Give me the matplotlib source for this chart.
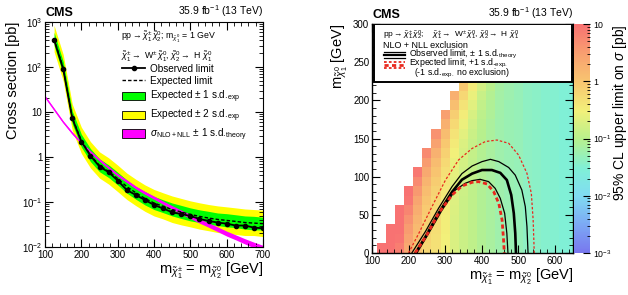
import matplotlib
matplotlib.use("Agg")
import matplotlib.pyplot as plt
import numpy as np
from matplotlib.colors import LinearSegmentedColormap, LogNorm
from matplotlib.lines import Line2D
from matplotlib.patches import Patch, Rectangle
from matplotlib.ticker import FixedLocator, MultipleLocator, LogLocator, NullFormatter

plt.rcParams["font.family"] = ["Liberation Sans", "DejaVu Sans"]
plt.rcParams["mathtext.fontset"] = "custom"
plt.rcParams["mathtext.rm"] = "Liberation Sans"
plt.rcParams["mathtext.it"] = "Liberation Sans:italic"
plt.rcParams["mathtext.bf"] = "Liberation Sans:bold"

# ---------------- left panel data ----------------
mass = [125, 150, 175, 200, 225, 250, 275, 300, 325, 350, 375, 400,
        425, 450, 475, 500, 525, 550, 575, 600, 625, 650, 675, 700]
obs_limit = [400, 90, 7.2, 2.2, 1.07, 0.61, 0.46, 0.30, 0.185, 0.143, 0.111, 0.086,
             0.072, 0.059, 0.054, 0.049, 0.042, 0.038, 0.035, 0.033, 0.030, 0.030, 0.027, 0.026]
exp_limit = [420, 95, 7.5, 2.3, 1.1, 0.65, 0.48, 0.33, 0.22, 0.16, 0.12, 0.095,
             0.080, 0.068, 0.060, 0.053, 0.048, 0.044, 0.041, 0.039, 0.037, 0.035, 0.034, 0.033]
exp_1s_up = [590, 133, 10.5, 3.2, 1.54, 0.91, 0.67, 0.46, 0.31, 0.22, 0.17, 0.133,
             0.112, 0.095, 0.084, 0.074, 0.067, 0.062, 0.057, 0.055, 0.052, 0.049, 0.048, 0.046]
exp_1s_dn = [302, 68, 5.4, 1.66, 0.79, 0.47, 0.35, 0.24, 0.158, 0.115, 0.086, 0.068,
             0.058, 0.049, 0.043, 0.038, 0.035, 0.032, 0.030, 0.028, 0.027, 0.025, 0.024, 0.024]
exp_2s_up = [840, 190, 15, 4.6, 2.2, 1.3, 0.96, 0.66, 0.44, 0.32, 0.24, 0.19,
             0.16, 0.136, 0.12, 0.106, 0.096, 0.088, 0.082, 0.078, 0.074, 0.070, 0.068, 0.066]
exp_2s_dn = [218, 49, 3.9, 1.2, 0.57, 0.34, 0.25, 0.17, 0.114, 0.083, 0.062, 0.049,
             0.042, 0.035, 0.031, 0.028, 0.025, 0.023, 0.021, 0.020, 0.019, 0.018, 0.018, 0.017]

th_mass = [100, 125, 150, 175, 200, 225, 250, 275, 300, 325, 350, 375, 400,
           425, 450, 475, 500, 525, 550, 575, 600, 625, 650, 675, 700]
th_xsec = [22, 11.5, 6.0, 3.4, 2.05, 1.3, 0.86, 0.58, 0.40, 0.29, 0.21, 0.16, 0.125,
           0.097, 0.076, 0.060, 0.048, 0.038, 0.031, 0.025, 0.020, 0.0165, 0.0135, 0.0112, 0.0095]
th_up = [23.0, 12.1, 6.3, 3.6, 2.16, 1.37, 0.91, 0.615, 0.425, 0.31, 0.225, 0.172, 0.135,
         0.105, 0.083, 0.066, 0.053, 0.042, 0.0345, 0.028, 0.0225, 0.0186, 0.0153, 0.0128, 0.0109]
th_dn = [21.0, 10.9, 5.7, 3.2, 1.94, 1.23, 0.81, 0.545, 0.375, 0.27, 0.195, 0.148, 0.115,
         0.089, 0.069, 0.054, 0.043, 0.034, 0.0275, 0.022, 0.0175, 0.0144, 0.0117, 0.0096, 0.0081]

# ---------------- right panel data ----------------
# cell centres: chargino mass 125..650 (25 GeV), LSP mass 6.25..218.75 (12.5 GeV)
grid_x = [125, 150, 175, 200, 225, 250, 275, 300, 325, 350, 375,
          400, 425, 450, 475, 500, 525, 550, 575, 600, 625, 650]
grid_y = [6.25, 18.75, 31.25, 43.75, 56.25, 68.75, 81.25, 93.75, 106.25,
          118.75, 131.25, 143.75, 156.25, 168.75, 181.25, 193.75, 206.25, 218.75]
_ = np.nan
# log10 of the 95% CL upper limit [pb], one row per LSP mass
log_limit = [
    [2.6, 1.95, 0.85, 0.35, 0.03, -0.22, -0.34, -0.52, -0.73, -0.85, -0.95, -1.06, -1.14, -1.23, -1.27, -1.31, -1.38, -1.42, -1.46, -1.48, -1.52, -1.54],
    [_, 2.13, 0.96, 0.43, 0.07, -0.20, -0.33, -0.52, -0.73, -0.85, -0.95, -1.06, -1.14, -1.23, -1.27, -1.31, -1.38, -1.42, -1.46, -1.48, -1.52, -1.54],
    [_, 2.33, 1.10, 0.52, 0.13, -0.17, -0.31, -0.50, -0.73, -0.85, -0.95, -1.06, -1.14, -1.23, -1.27, -1.31, -1.38, -1.42, -1.46, -1.48, -1.52, -1.54],
    [_, _, 1.28, 0.63, 0.21, -0.13, -0.29, -0.49, -0.73, -0.85, -0.95, -1.06, -1.14, -1.23, -1.27, -1.31, -1.38, -1.42, -1.46, -1.48, -1.52, -1.54],
    [_, _, 1.48, 0.77, 0.30, -0.07, -0.26, -0.47, -0.71, -0.85, -0.95, -1.06, -1.14, -1.23, -1.27, -1.31, -1.38, -1.42, -1.46, -1.48, -1.52, -1.54],
    [_, _, _, 0.95, 0.41, 0.01, -0.22, -0.45, -0.70, -0.85, -0.95, -1.06, -1.14, -1.23, -1.27, -1.31, -1.38, -1.42, -1.46, -1.48, -1.52, -1.54],
    [_, _, _, 1.15, 0.55, 0.10, -0.16, -0.42, -0.68, -0.83, -0.95, -1.06, -1.14, -1.23, -1.27, -1.31, -1.38, -1.42, -1.46, -1.48, -1.52, -1.54],
    [_, _, _, _, 0.73, 0.21, -0.08, -0.38, -0.66, -0.82, -0.95, -1.06, -1.14, -1.23, -1.27, -1.31, -1.38, -1.42, -1.46, -1.48, -1.52, -1.54],
    [_, _, _, _, 0.93, 0.35, 0.01, -0.32, -0.63, -0.80, -0.93, -1.06, -1.14, -1.23, -1.27, -1.31, -1.38, -1.42, -1.46, -1.48, -1.52, -1.54],
    [_, _, _, _, _, 0.53, 0.12, -0.24, -0.59, -0.78, -0.92, -1.06, -1.14, -1.23, -1.27, -1.31, -1.38, -1.42, -1.46, -1.48, -1.52, -1.54],
    [_, _, _, _, _, 0.73, 0.26, -0.15, -0.53, -0.75, -0.90, -1.04, -1.14, -1.23, -1.27, -1.31, -1.38, -1.42, -1.46, -1.48, -1.52, -1.54],
    [_, _, _, _, _, _, 0.44, -0.04, -0.45, -0.71, -0.88, -1.03, -1.14, -1.23, -1.27, -1.31, -1.38, -1.42, -1.46, -1.48, -1.52, -1.54],
    [_, _, _, _, _, _, 0.64, 0.10, -0.36, -0.65, -0.85, -1.01, -1.12, -1.23, -1.27, -1.31, -1.38, -1.42, -1.46, -1.48, -1.52, -1.54],
    [_, _, _, _, _, _, _, 0.28, -0.25, -0.57, -0.81, -0.99, -1.11, -1.23, -1.27, -1.31, -1.38, -1.42, -1.46, -1.48, -1.52, -1.54],
    [_, _, _, _, _, _, _, 0.48, -0.11, -0.48, -0.75, -0.96, -1.09, -1.21, -1.27, -1.31, -1.38, -1.42, -1.46, -1.48, -1.52, -1.54],
    [_, _, _, _, _, _, _, _, 0.07, -0.37, -0.67, -0.92, -1.07, -1.20, -1.27, -1.31, -1.38, -1.42, -1.46, -1.48, -1.52, -1.54],
    [_, _, _, _, _, _, _, _, 0.27, -0.23, -0.58, -0.86, -1.04, -1.18, -1.25, -1.31, -1.38, -1.42, -1.46, -1.48, -1.52, -1.54],
    [_, _, _, _, _, _, _, _, _, -0.05, -0.47, -0.78, -1.00, -1.16, -1.24, -1.31, -1.38, -1.42, -1.46, -1.48, -1.52, -1.54],
]

# exclusion contours (chargino mass, LSP mass)
obs_x = [219, 246, 282, 319, 346, 374, 401, 428, 451, 469, 481, 488, 492, 494]
obs_y = [0, 21, 52, 80, 96, 104, 108.7, 108.7, 105, 95.6, 76, 52, 26, 0]
obs_up_x = [209, 246, 282, 319, 346, 374, 401, 424, 447, 474, 492, 510, 519.5, 524, 527]
obs_up_y = [0, 28, 58.5, 87, 104, 114, 119.7, 122.7, 119.7, 112, 102, 82.5, 60.7, 34.5, 0]
obs_dn_x = [223, 255, 291.5, 328, 355, 374, 396, 419, 437, 451, 463, 469, 472]
obs_dn_y = [0, 25.7, 56, 82.5, 91.3, 94.8, 96.5, 93.5, 84.7, 71.6, 52, 25.7, 0]
exp_x = [218, 250, 282, 319, 346, 374, 392, 415, 433, 447, 456, 460, 462]
exp_y = [0, 23.6, 52, 76, 87.8, 92.6, 93.5, 90.4, 80.3, 65, 43, 17, 0]
exp_up_x = [200, 228, 264, 301, 337, 374, 410, 442, 474, 501, 524, 536, 541, 544]
exp_up_y = [0, 25.7, 60.7, 95.6, 122, 137, 146, 148, 143.7, 128.4, 104.4, 78, 43, 0]

# ---------------- figure ----------------
fig = plt.figure(figsize=(6.28, 2.95), dpi=100)
ax1 = fig.add_axes([0.0717, 0.1627, 0.3471, 0.7627])
ax2 = fig.add_axes([0.5924, 0.1424, 0.3200, 0.7762])
cax = fig.add_axes([0.9140, 0.1424, 0.0255, 0.7762])

tick_fs = 7

# left: cross section limits
ax1.fill_between(mass, exp_2s_dn, exp_2s_up, color="#ffff00", lw=0)
ax1.fill_between(mass, exp_1s_dn, exp_1s_up, color="#00ff00", lw=0)
ax1.fill_between(th_mass, th_dn, th_up, color="#ff00ff", lw=0)
ax1.plot(th_mass, th_xsec, color="#ff00ff", lw=1.0)
ax1.plot(mass, exp_limit, color="black", ls=(0, (2.5, 1.5)), lw=1.0)
ax1.plot(mass, obs_limit, color="black", lw=1.3, marker="o", ms=3)

ax1.set_yscale("log")
ax1.set_xlim(100, 700)
ax1.set_ylim(1e-2, 1e3)
ax1.xaxis.set_major_locator(MultipleLocator(100))
ax1.xaxis.set_minor_locator(MultipleLocator(20))
ax1.yaxis.set_major_locator(FixedLocator([1e-2, 1e-1, 1, 10, 1e2, 1e3]))
ax1.set_yticklabels([r"$10^{-2}$", r"$10^{-1}$", "1", "10", r"$10^{2}$", r"$10^{3}$"])
ax1.yaxis.set_minor_locator(LogLocator(base=10, subs=np.arange(2, 10)))
ax1.yaxis.set_minor_formatter(NullFormatter())
ax1.tick_params(which="both", direction="in", top=True, right=True, labelsize=tick_fs, pad=2)
ax1.tick_params(which="major", length=6)
ax1.tick_params(which="minor", length=3)
ax1.set_ylabel("Cross section [pb]", fontsize=10.5, loc="top", labelpad=1)
ax1.set_xlabel(r"$\mathrm{m}_{\tilde{\chi}^{\pm}_{1}}$ = $\mathrm{m}_{\tilde{\chi}^{0}_{2}}$ [GeV]",
               fontsize=10.5, loc="right", labelpad=1)

ax1.text(0.0, 1.012, "CMS", transform=ax1.transAxes, fontsize=9, fontweight="bold", va="bottom")
ax1.text(1.0, 1.012, r"35.9 fb$^{-1}$ (13 TeV)", transform=ax1.transAxes, fontsize=7.5,
         ha="right", va="bottom")
ax1.text(0.35, 0.935, r"pp$\rightarrow\tilde{\chi}^{\pm}_{1}\,\tilde{\chi}^{0}_{2}$; "
         r"$\mathrm{m}_{\tilde{\chi}^{0}_{1}}$ = 1 GeV",
         transform=ax1.transAxes, fontsize=6.3, va="center")
ax1.text(0.35, 0.845, r"$\tilde{\chi}^{\pm}_{1}\rightarrow$ W$^{\pm}\,\tilde{\chi}^{0}_{1}$, "
         r"$\tilde{\chi}^{0}_{2}\rightarrow$ H $\tilde{\chi}^{0}_{1}$",
         transform=ax1.transAxes, fontsize=6.3, va="center")

handles = [
    Line2D([], [], color="black", lw=1.3, marker="o", ms=3),
    Line2D([], [], color="black", lw=1.0, ls=(0, (2.5, 1.5))),
    Patch(facecolor="#00ff00", edgecolor="black", lw=0.6),
    Patch(facecolor="#ffff00", edgecolor="black", lw=0.6),
    Patch(facecolor="#ff00ff", edgecolor="black", lw=0.6),
]
labels = [
    "Observed limit",
    "Expected limit",
    r"Expected $\pm$ 1 s.d.$_{\mathrm{exp}}$",
    r"Expected $\pm$ 2 s.d.$_{\mathrm{exp}}$",
    r"$\sigma_{\mathrm{NLO+NLL}}$ $\pm$ 1 s.d.$_{\mathrm{theory}}$",
]
ax1.legend(handles, labels, loc="upper left", bbox_to_anchor=(0.355, 0.815), frameon=False,
           fontsize=7.2, handlelength=2.3, handleheight=0.9, labelspacing=0.25,
           handletextpad=0.45, borderpad=0, borderaxespad=0)

# right: upper limit map + contours
colors = ["#7877ee", "#7ca8f4", "#80dcf2", "#80f0d6", "#b8f08c",
          "#f2f07a", "#f8c870", "#f8a070", "#f87272"]
pos = [0.0, 0.12, 0.25, 0.37, 0.5, 0.62, 0.74, 0.87, 1.0]
cmap = LinearSegmentedColormap.from_list("limit", list(zip(pos, colors)))
cmap.set_over("#f87272")
cmap.set_under("#7877ee")
norm = LogNorm(vmin=1e-3, vmax=10)

x_edges = np.append(np.array(grid_x) - 12.5, grid_x[-1] + 12.5)
y_edges = np.append(np.array(grid_y) - 6.25, grid_y[-1] + 6.25)
limit = np.ma.masked_invalid(10.0 ** np.array(log_limit))
mesh = ax2.pcolormesh(x_edges, y_edges, limit, cmap=cmap, norm=norm, shading="flat")

ax2.plot(obs_up_x, obs_up_y, color="black", lw=0.9)
ax2.plot(obs_dn_x, obs_dn_y, color="black", lw=0.9)
ax2.plot(obs_x, obs_y, color="black", lw=1.9)
ax2.plot(exp_up_x, exp_up_y, color="#e8281e", lw=0.9, ls=(0, (2, 1.5)))
ax2.plot(exp_x, exp_y, color="#e8281e", lw=2.0, ls=(0, (1.5, 1.0)))

ax2.set_xlim(100, 650)
ax2.set_ylim(0, 300)
ax2.xaxis.set_major_locator(MultipleLocator(100))
ax2.xaxis.set_minor_locator(MultipleLocator(20))
ax2.yaxis.set_major_locator(MultipleLocator(50))
ax2.yaxis.set_minor_locator(MultipleLocator(10))
ax2.tick_params(which="both", direction="in", top=True, right=True, labelsize=tick_fs, pad=2)
ax2.tick_params(which="major", length=6)
ax2.tick_params(which="minor", length=3)
ax2.set_ylabel(r"$\mathrm{m}_{\tilde{\chi}^{0}_{1}}$ [GeV]", fontsize=10.5, loc="top", labelpad=2)
ax2.set_xlabel(r"$\mathrm{m}_{\tilde{\chi}^{\pm}_{1}}$ = $\mathrm{m}_{\tilde{\chi}^{0}_{2}}$ [GeV]",
               fontsize=10.5, loc="right", labelpad=1)
for spine in ax2.spines.values():
    spine.set_linewidth(1.0)

ax2.text(0.0, 1.012, "CMS", transform=ax2.transAxes, fontsize=9, fontweight="bold", va="bottom")
ax2.text(1.0, 1.012, r"35.9 fb$^{-1}$ (13 TeV)", transform=ax2.transAxes, fontsize=7.5,
         ha="right", va="bottom")

# legend box on top of the map
ax2.add_patch(Rectangle((0.012, 0.748), 0.985, 0.251, transform=ax2.transAxes,
                        facecolor="white", edgecolor="black", lw=1.4, zorder=5))
ax2.text(0.055, 0.952, r"pp$\rightarrow\tilde{\chi}^{\pm}_{1}\,\tilde{\chi}^{0}_{2}$;    "
         r"$\tilde{\chi}^{\pm}_{1}\rightarrow$ W$^{\pm}\,\tilde{\chi}^{0}_{1}$, "
         r"$\tilde{\chi}^{0}_{2}\rightarrow$ H $\tilde{\chi}^{0}_{1}$",
         transform=ax2.transAxes, fontsize=6, va="center", zorder=6)
ax2.text(0.055, 0.905, "NLO + NLL exclusion", transform=ax2.transAxes, fontsize=6.5,
         va="center", zorder=6)
for dy, lw in [(0.014, 0.9), (0.0, 1.6), (-0.014, 0.9)]:
    ax2.plot([0.058, 0.165], [0.864 + dy] * 2, transform=ax2.transAxes, color="black",
             lw=lw, zorder=6, clip_on=False)
    ax2.plot([0.058, 0.165], [0.822 + dy] * 2, transform=ax2.transAxes, color="#e8281e",
             lw=lw + 0.4, ls=(0, (1.5, 1.2)), zorder=6, clip_on=False)
ax2.text(0.183, 0.866, r"Observed limit, $\pm$ 1 s.d.$_{\mathrm{theory}}$",
         transform=ax2.transAxes, fontsize=6.3, va="center", zorder=6)
ax2.text(0.183, 0.828, r"Expected limit, +1 s.d.$_{\mathrm{exp.}}$",
         transform=ax2.transAxes, fontsize=6.3, va="center", zorder=6)
ax2.text(0.207, 0.782, r"(-1 s.d.$_{\mathrm{exp.}}$ no exclusion)",
         transform=ax2.transAxes, fontsize=6.3, va="center", zorder=6)

cb = fig.colorbar(mesh, cax=cax, extend="neither")
cb.outline.set_visible(False)
cb.set_ticks([1e-3, 1e-2, 1e-1, 1, 10])
cb.set_ticklabels([r"$10^{-3}$", r"$10^{-2}$", r"$10^{-1}$", "1", "10"])
cax.yaxis.set_minor_locator(LogLocator(base=10, subs=np.arange(2, 10)))
cax.yaxis.set_minor_formatter(NullFormatter())
cax.tick_params(which="both", direction="in", labelsize=6.3, pad=2)
cax.tick_params(which="major", length=5)
cax.tick_params(which="minor", length=2.5)
cb.set_label(r"95% CL upper limit on $\sigma$ [pb]", fontsize=10, loc="top", labelpad=0)

fig.savefig("out.png", dpi=100)
